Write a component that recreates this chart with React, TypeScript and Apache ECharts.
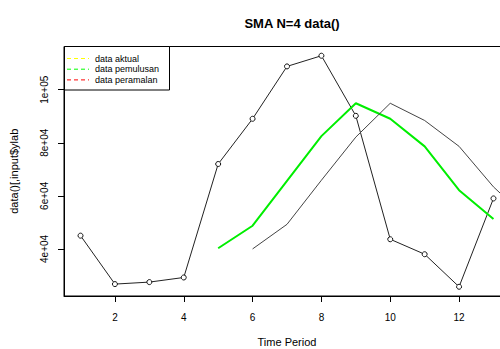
import React, { useEffect, useRef } from "react";
import * as echarts from "echarts";

const periods = [1, 2, 3, 4, 5, 6, 7, 8, 9, 10, 11, 12, 13];
const actualValues = [45000, 26750, 27500, 29240, 72000, 89040, 108780, 112800, 90160, 43640, 38000, 25740, 59020];
const smoothPeriods = [5, 6, 7, 8, 9, 10, 11, 12, 13];
const smoothValues = [40260, 48740, 65630, 82510, 94890, 89040, 78650, 62140, 51260];
const forecastPeriods = [6, 7, 8, 9, 10, 11, 12, 13, 14];
const forecastValues = [40000, 49270, 65890, 82140, 94890, 88400, 78650, 63380, 51260];
const xTicks = [2, 4, 6, 8, 10, 12];
const yTicks = [40000, 60000, 80000, 100000];
const yTickLabels = ["4e+04", "6e+04", "8e+04", "1e+05"];
const legendLabels = ["data aktual", "data pemulusan", "data peramalan"];
const legendColors = ["#ffff00", "#00ff00", "#ff0000"];

const FONT = "Liberation Sans, Arial, sans-serif";

export default function App() {
  const ref = useRef<HTMLDivElement>(null);
  useEffect(() => {
    if (!ref.current) return;
    const chart = echarts.init(ref.current, undefined, { renderer: "svg" });
    const legendGraphics: any[] = [
      {
        type: "rect",
        shape: { x: 64.5, y: 46.5, width: 105, height: 43.5 },
        style: { fill: "#fff", stroke: "#000", lineWidth: 1 },
        z: 100,
      },
    ];
    legendLabels.forEach((lab, i) => {
      const y = 58.5 + i * 10.7;
      legendGraphics.push({
        type: "line",
        shape: { x1: 67, y1: y, x2: 89, y2: y },
        style: { stroke: legendColors[i], lineWidth: 1, lineDash: [4, 3] },
        z: 101,
      });
      legendGraphics.push({
        type: "text",
        x: 95,
        y: y,
        style: {
          text: lab,
          fontFamily: FONT,
          fontSize: 9,
          fill: "#000",
          verticalAlign: "middle",
          align: "left",
        },
        z: 101,
      });
    });
    chart.setOption({
      animation: false,
      backgroundColor: "#fff",
      title: {
        text: "SMA N=4 data()",
        left: 287,
        top: 12,
        textAlign: "center",
        textStyle: { fontFamily: FONT, fontSize: 13, fontWeight: "bold", color: "#000" },
      },
      grid: {
        left: 64,
        top: 46.5,
        right: -10,
        bottom: 53,
        outerBoundsMode: "none",
        containLabel: false,
        show: true,
        borderColor: "#000",
        borderWidth: 1,
        backgroundColor: "transparent",
      },
      xAxis: {
        type: "value",
        min: 0.52,
        max: 13.48,
        name: "Time Period",
        nameLocation: "middle",
        nameGap: 40,
        nameTextStyle: { fontFamily: FONT, fontSize: 11, color: "#000" },
        splitLine: { show: false },
        axisLine: { show: true, lineStyle: { color: "#000" } },
        axisTick: { show: true, length: 6, inside: false, customValues: xTicks, lineStyle: { color: "#000" } },
        axisLabel: {
          customValues: xTicks,
          fontFamily: FONT,
          fontSize: 10,
          color: "#000",
          margin: 16,
        },
      },
      yAxis: {
        type: "value",
        min: 22260,
        max: 116280,
        name: "data()[,input$ylab",
        nameLocation: "middle",
        nameGap: 45,
        nameRotate: 90,
        nameTextStyle: { fontFamily: FONT, fontSize: 11, color: "#000" },
        splitLine: { show: false },
        axisLine: { show: true, lineStyle: { color: "#000" } },
        axisTick: { show: true, length: 6, inside: false, customValues: yTicks, lineStyle: { color: "#000" } },
        axisLabel: {
          customValues: yTicks,
          rotate: 90,
          fontFamily: FONT,
          fontSize: 10,
          color: "#000",
          margin: 15,
          formatter: (v: number) => {
            const idx = yTicks.indexOf(v);
            return idx >= 0 ? yTickLabels[idx] : "";
          },
        },
      },
      series: [
        {
          type: "line",
          data: periods.map((p, i) => [p, actualValues[i]]),
          symbol: "circle",
          symbolSize: 5,
          showSymbol: true,
          itemStyle: { color: "#fff", borderColor: "#111", borderWidth: 1 },
          lineStyle: { color: "#222", width: 1 },
          clip: true,
        },
        {
          type: "line",
          data: smoothPeriods.map((p, i) => [p, smoothValues[i]]),
          symbol: "none",
          lineStyle: { color: "#00ee00", width: 2 },
          clip: true,
        },
        {
          type: "line",
          data: forecastPeriods.map((p, i) => [p, forecastValues[i]]),
          symbol: "none",
          lineStyle: { color: "#444", width: 1 },
          clip: true,
        },
      ],
      graphic: legendGraphics,
    });
    return () => chart.dispose();
  }, []);
  return (
    <div
      ref={ref}
      style={{ position: "absolute", left: 0, top: 0, width: 500, height: 349 }}
    />
  );
}
